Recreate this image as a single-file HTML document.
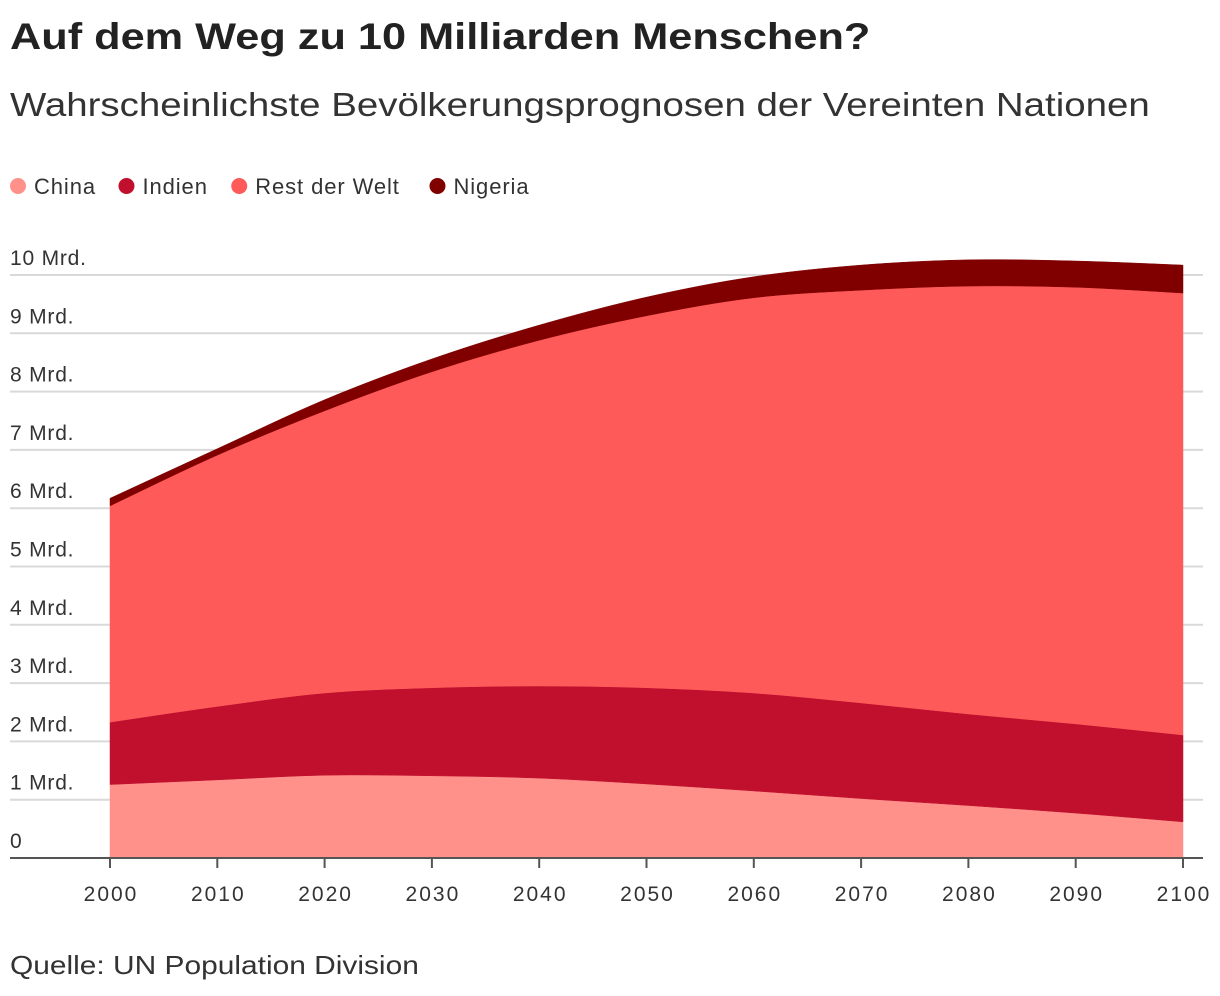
<!DOCTYPE html>
<html><head><meta charset="utf-8"><style>
body{margin:0;background:#fff;width:1220px;height:996px;overflow:hidden;font-family:"Liberation Sans",sans-serif;color:#222}
.t{position:absolute;left:10px;top:16px;font-size:37px;font-weight:bold;transform:scaleX(1.17);transform-origin:0 0;white-space:nowrap}
.s{position:absolute;left:10px;top:86px;font-size:33px;color:#333;transform:scaleX(1.165);transform-origin:0 0;white-space:nowrap}
.src{position:absolute;left:10px;top:950px;font-size:26px;color:#333;transform:scaleX(1.15);transform-origin:0 0;white-space:nowrap}
svg{position:absolute;left:0;top:0}
</style></head><body>
<div class="t">Auf dem Weg zu 10 Milliarden Menschen?</div>
<div class="s">Wahrscheinlichste Bevölkerungsprognosen der Vereinten Nationen</div>
<div class="src">Quelle: UN Population Division</div>
<svg id="c" width="1220" height="996"></svg>
<script>
const years=[2000,2010,2020,2030,2040,2050,2060,2070,2080,2090,2100];
const china=[1.26,1.34,1.42,1.41,1.37,1.27,1.15,1.02,0.90,0.77,0.62];
const india=[1.07,1.26,1.41,1.51,1.58,1.65,1.68,1.64,1.57,1.53,1.49];
const rest=[3.71,4.31,4.84,5.42,5.93,6.38,6.78,7.08,7.34,7.49,7.58];
const nigeria=[0.13,0.11,0.19,0.22,0.26,0.32,0.36,0.43,0.45,0.45,0.48];
const yTicks=[0,1,2,3,4,5,6,7,8,9,10];
const yLabels=["0","1 Mrd.","2 Mrd.","3 Mrd.","4 Mrd.","5 Mrd.","6 Mrd.","7 Mrd.","8 Mrd.","9 Mrd.","10 Mrd."];
const xTicks=[2000,2010,2020,2030,2040,2050,2060,2070,2080,2090,2100];
const series=[["China",china,"#ff918a"],["Indien",india,"#c0102e"],["Rest der Welt",rest,"#ff5a5a"],["Nigeria",nigeria,"#800000"]];
const X=y=>110+(y-2000)*(1183-110)/100;
const Y=v=>858-v*58.3;
const svg=document.getElementById('c');const NS='http://www.w3.org/2000/svg';
function mk(t,a){const e=document.createElementNS(NS,t);for(const k in a)e.setAttribute(k,a[k]);svg.appendChild(e);return e;}
yTicks.forEach((v,i)=>{
 if(v>0){const l=mk('line',{x1:10,x2:1203,y1:Y(v),y2:Y(v),stroke:'#d9d9d9','stroke-width':2});
 
 }
 const t=mk('text',{x:10,y:Y(v)-10,'font-size':21,fill:'#333','letter-spacing':0.8});t.textContent=yLabels[i];
 
 
});
function curve(pts){let d='';for(let i=0;i<pts.length-1;i++){const p0=pts[i-1]||pts[i],p1=pts[i],p2=pts[i+1],p3=pts[i+2]||p2;
 const c1=[p1[0]+(p2[0]-p0[0])/6,p1[1]+(p2[1]-p0[1])/6],c2=[p2[0]-(p3[0]-p1[0])/6,p2[1]-(p3[1]-p1[1])/6];
 d+=`C${c1[0]},${c1[1]} ${c2[0]},${c2[1]} ${p2[0]},${p2[1]}`;}return d;}
let base=years.map(()=>0);
series.forEach(([name,vals,col])=>{
 const top=base.map((b,i)=>b+vals[i]);
 const tp=years.map((y,i)=>[X(y),Y(top[i])]);
 const bp=years.map((y,i)=>[X(y),Y(base[i])]).reverse();
 const d='M'+tp[0]+curve(tp)+'L'+bp[0]+curve(bp)+'Z';
 const p=mk('path',{d:d,fill:col,stroke:col,'stroke-width':0.5});
 
 
 base=top;
});
const ax=mk('line',{x1:10,x2:1203,y1:858,y2:858,stroke:'#555','stroke-width':2});


xTicks.forEach(y=>{
 const l=mk('line',{x1:X(y),x2:X(y),y1:858,y2:868,stroke:'#555','stroke-width':2});
 
 
 const t=mk('text',{x:X(y)+1,y:901,'font-size':21,fill:'#333','text-anchor':'middle','letter-spacing':2});t.textContent=y;
 
 
});
let lx=10;
series.forEach(([name,vals,col])=>{
 const c=mk('circle',{cx:lx+8,cy:186,r:8,fill:col});
 
 
 const t=mk('text',{x:lx+24,y:194,'font-size':22,fill:'#333','letter-spacing':0.9});t.textContent=name;
 
 
 lx+=24+t.getComputedTextLength()+t.textContent.length*0.9+18;
});
</script>
</body></html>
